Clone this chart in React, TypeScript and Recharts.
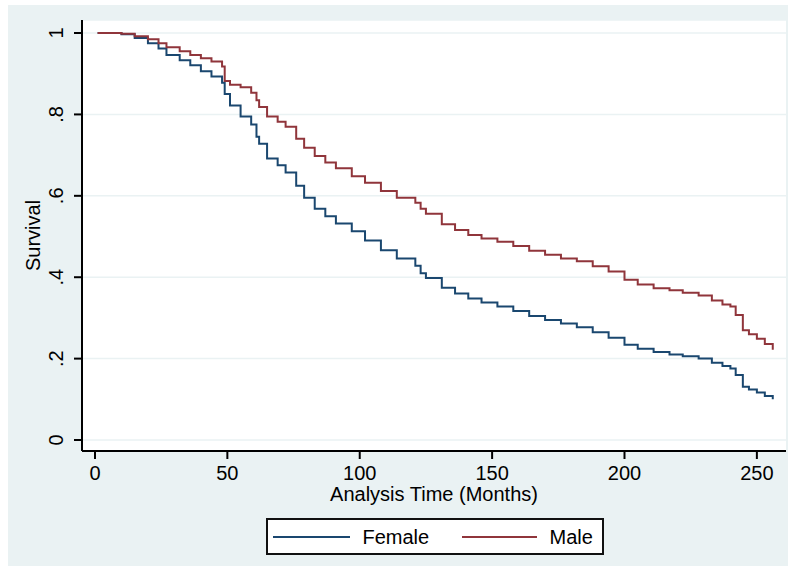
import { CartesianGrid, Legend, Line, LineChart, XAxis, YAxis } from 'recharts';

const months = [
  1, 5, 10, 15, 20, 24, 27, 32, 36, 40, 44, 48, 49, 51, 55, 59, 61, 62, 65, 69, 72, 76, 79, 83, 87, 91, 97,
  102, 108, 114, 121, 123, 125, 131, 136, 141, 146, 152, 158, 164, 170, 176, 182, 188, 194, 200, 205, 211,
  217, 222, 228, 233, 237, 240, 242, 244.7, 247, 250, 253, 256,
];

const female = [
  1.0, 1.0, 0.997, 0.988, 0.975, 0.962, 0.946, 0.933, 0.921, 0.906, 0.893, 0.878, 0.85, 0.822, 0.795, 0.775,
  0.745, 0.728, 0.692, 0.675, 0.657, 0.625, 0.595, 0.568, 0.55, 0.532, 0.513, 0.49, 0.466, 0.446, 0.428, 0.41,
  0.398, 0.374, 0.36, 0.348, 0.338, 0.328, 0.317, 0.305, 0.295, 0.286, 0.277, 0.265, 0.251, 0.234, 0.224,
  0.216, 0.21, 0.206, 0.2, 0.19, 0.182, 0.176, 0.16, 0.131, 0.124, 0.117, 0.108, 0.1,
];

const male = [
  1.0, 1.0, 0.998, 0.992, 0.985, 0.975, 0.965, 0.955, 0.946, 0.938, 0.93, 0.918, 0.882, 0.873, 0.867, 0.853,
  0.835, 0.818, 0.795, 0.782, 0.77, 0.74, 0.718, 0.698, 0.682, 0.668, 0.648, 0.632, 0.612, 0.595, 0.583,
  0.568, 0.556, 0.53, 0.516, 0.504, 0.495, 0.487, 0.477, 0.465, 0.455, 0.446, 0.439, 0.427, 0.414, 0.394,
  0.382, 0.373, 0.368, 0.362, 0.355, 0.343, 0.333, 0.328, 0.307, 0.27, 0.26, 0.249, 0.236, 0.222,
];

const xTicks = [0, 50, 100, 150, 200, 250];
const yTicks = [0, 0.2, 0.4, 0.6, 0.8, 1];
const yTickLabels = ['0', '.2', '.4', '.6', '.8', '1'];

const BLUE = '#1a476f';
const RED = '#90353b';
const BG = '#eaf2f3';
const FONT = '"Liberation Sans", Arial, sans-serif';

const data = months.map((m, i) => ({ month: m, female: female[i], male: male[i] }));

function YTick({ x, y, payload }: any) {
  const idx = yTicks.indexOf(payload.value);
  return (
    <g transform={`translate(${x}, ${y}) rotate(-90)`}>
      <text x={0} y={0} textAnchor="middle" fontSize={20} fontFamily={FONT} fill="#000">
        {idx >= 0 ? yTickLabels[idx] : payload.value}
      </text>
    </g>
  );
}

function YLabel({ viewBox }: any) {
  const cy = viewBox.y + viewBox.height / 2;
  return (
    <g transform={`translate(32, ${cy}) rotate(-90)`}>
      <text x={0} y={0} textAnchor="middle" fontSize={20} fontFamily={FONT} fill="#000">
        Survival
      </text>
    </g>
  );
}

function LegendBox() {
  const line = (left: number, width: number, color: string) => (
    <div style={{ position: 'absolute', left, top: 16, width, height: 2, background: color }} />
  );
  const label = (left: number, text: string) => (
    <div style={{ position: 'absolute', left, top: 5, fontSize: 20, lineHeight: '24px', fontFamily: FONT, color: '#000' }}>
      {text}
    </div>
  );
  return (
    <div
      style={{
        position: 'relative',
        width: 338,
        height: 37,
        boxSizing: 'border-box',
        border: '2px solid #111',
        background: '#fff',
      }}
    >
      {line(5, 77, BLUE)}
      {label(95, 'Female')}
      {line(194, 75, RED)}
      {label(282, 'Male')}
    </div>
  );
}

export default function App() {
  return (
    <>
      <style>{'html, body { margin: 0; overflow: hidden; }'}</style>
      <div style={{ width: 780, height: 561, marginLeft: 8, paddingTop: 0, position: 'absolute', top: 5, left: 0, background: BG, fontFamily: FONT }}>
        <LineChart width={780} height={561} data={data} margin={{ top: 15, right: 2, bottom: 0, left: 0 }}>
          <CartesianGrid vertical={false} stroke={BG} strokeWidth={1.5} fill="#ffffff" fillOpacity={1} />
          <XAxis
            dataKey="month"
            type="number"
            domain={[-4.9, 261]}
            ticks={xTicks}
            allowDataOverflow
            height={115}
            axisLine={{ stroke: '#000', strokeWidth: 2 }}
            tickLine={{ stroke: '#000', strokeWidth: 2 }}
            tickSize={8}
            tickMargin={7}
            tick={{ fill: '#000', fontSize: 20, fontFamily: FONT }}
            label={{ value: 'Analysis Time (Months)', position: 'insideBottom', offset: 65, fill: '#000', fontSize: 20, fontFamily: FONT }}
          />
          <YAxis
            type="number"
            domain={[-0.027, 1.032]}
            ticks={yTicks}
            allowDataOverflow
            width={74}
            axisLine={{ stroke: '#000', strokeWidth: 2 }}
            tickLine={{ stroke: '#000', strokeWidth: 2 }}
            tickSize={8}
            tickMargin={11}
            tick={<YTick />}
            label={<YLabel />}
          />
          <Legend
            layout="horizontal"
            verticalAlign="middle"
            align="center"
            content={<LegendBox />}
            wrapperStyle={{ position: 'absolute', left: 257.5, top: 513, width: 338, height: 37 }}
          />
          <Line type="stepAfter" dataKey="female" name="Female" stroke={BLUE} strokeWidth={2} dot={false} isAnimationActive={false} />
          <Line type="stepAfter" dataKey="male" name="Male" stroke={RED} strokeWidth={2} dot={false} isAnimationActive={false} />
        </LineChart>
      </div>
    </>
  );
}
